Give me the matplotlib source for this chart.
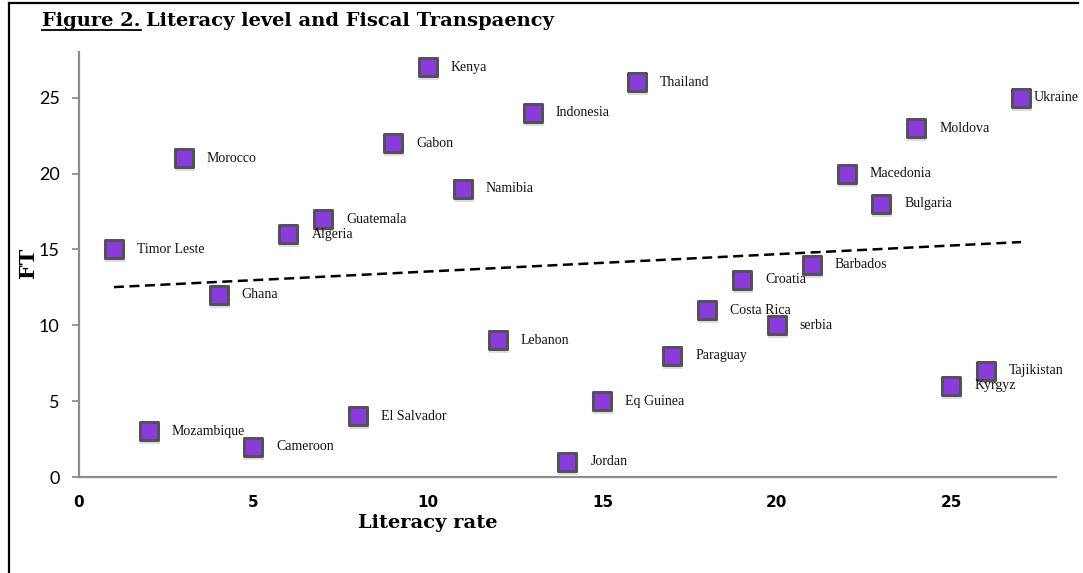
import numpy as np
import matplotlib
matplotlib.use("Agg")
import matplotlib.pyplot as plt
import matplotlib.transforms as mtransforms
from matplotlib.lines import Line2D

# data (literacy rank vs fiscal transparency rank)
countries = ["Timor Leste", "Mozambique", "Morocco", "Ghana", "Cameroon", "Algeria",
             "Guatemala", "El Salvador", "Gabon", "Kenya", "Namibia", "Lebanon",
             "Indonesia", "Jordan", "Eq Guinea", "Thailand", "Paraguay", "Costa Rica",
             "Croatia", "serbia", "Barbados", "Macedonia", "Bulgaria", "Moldova",
             "Kyrgyz", "Tajikistan", "Ukraine"]
literacy = [1, 2, 3, 4, 5, 6, 7, 8, 9, 10, 11, 12, 13, 14, 15, 16, 17, 18, 19, 20,
            21, 22, 23, 24, 25, 26, 27]
ft = [15, 3, 21, 12, 2, 16, 17, 4, 22, 27, 19, 9, 24, 1, 5, 26, 8, 11, 13, 10,
      14, 20, 18, 23, 6, 7, 25]
xticks = [0, 5, 10, 15, 20, 25]
yticks = [0, 5, 10, 15, 20, 25]

fig = plt.figure(figsize=(10.83, 5.73), dpi=100)
ax = fig.add_axes([0.073, 0.1675, 0.902, 0.7415])

# marker shadow, then the markers
shadow = mtransforms.offset_copy(ax.transData, fig=fig, x=1, y=-3, units='dots')
ax.scatter(literacy, ft, marker='s', s=220, color='#999999', alpha=0.3,
           linewidths=0, transform=shadow, zorder=2)
ax.scatter(literacy, ft, marker='s', s=160, facecolor='#8A3BDB',
           edgecolor='#55505c', linewidths=2.2, zorder=3)

for name, x, y in zip(countries, literacy, ft):
    dx = 13 if name == "Ukraine" else 23
    ax.annotate(name, (x, y), xytext=(dx, 0), textcoords='offset pixels',
                ha='left', va='center', fontsize=10, family='Liberation Serif',
                color='#111111', zorder=4)

# linear trend line
k, b = np.polyfit(literacy, ft, 1)
xs = np.array([min(literacy), max(literacy)])
ax.plot(xs, k * xs + b, color='black', lw=1.8, ls=(0, (4, 2.2)), zorder=1)

ax.set_xlim(0, 28)
ax.set_ylim(0, 28)
ax.set_xticks(xticks)
ax.set_yticks(yticks)
ax.set_xticklabels([str(t) for t in xticks], fontsize=11, fontweight='bold',
                   family='DejaVu Sans')
ax.set_yticklabels([str(t) for t in yticks], fontsize=13, family='Lato')
ax.tick_params(axis='x', length=0, pad=13)
ax.tick_params(axis='y', length=5, width=1.2, color='#888888', pad=9)
for s in ['top', 'right']:
    ax.spines[s].set_visible(False)
for s in ['left', 'bottom']:
    ax.spines[s].set_color('#8c8c8c')
    ax.spines[s].set_linewidth(1.6)

ax.text(10, -0.108, "Literacy rate", transform=ax.get_xaxis_transform(),
        ha='center', va='center', fontsize=14, fontweight='bold',
        family='DejaVu Serif')
fig.text(28 / 1083, 1 - 263 / 573, "FT", rotation=90, ha='center', va='center',
         fontsize=15, fontweight='bold', family='DejaVu Serif')

# title with underlined "Figure 2."
t1 = fig.text(42 / 1083, 1 - 21 / 573, "Figure 2.", ha='left', va='center',
              fontsize=14, fontweight='bold', family='DejaVu Serif')
fig.canvas.draw()
bb = t1.get_window_extent()
fig.text((bb.x1 + 6) / 1083, 1 - 21 / 573, "Literacy level and Fiscal Transpaency",
         ha='left', va='center', fontsize=14, fontweight='bold', family='DejaVu Serif')
uy = 1 - 30 / 573
fig.add_artist(Line2D([bb.x0 / 1083, bb.x1 / 1083], [uy, uy], transform=fig.transFigure,
                      color='black', lw=1.3))

# outer frame (top and left edges)
fig.add_artist(Line2D([9 / 1083, 1078 / 1083], [1 - 3 / 573, 1 - 3 / 573],
                      transform=fig.transFigure, color='black', lw=1.6))
fig.add_artist(Line2D([9 / 1083, 9 / 1083], [0, 1 - 3 / 573],
                      transform=fig.transFigure, color='black', lw=1.6))

fig.savefig("out.png", dpi=100)
